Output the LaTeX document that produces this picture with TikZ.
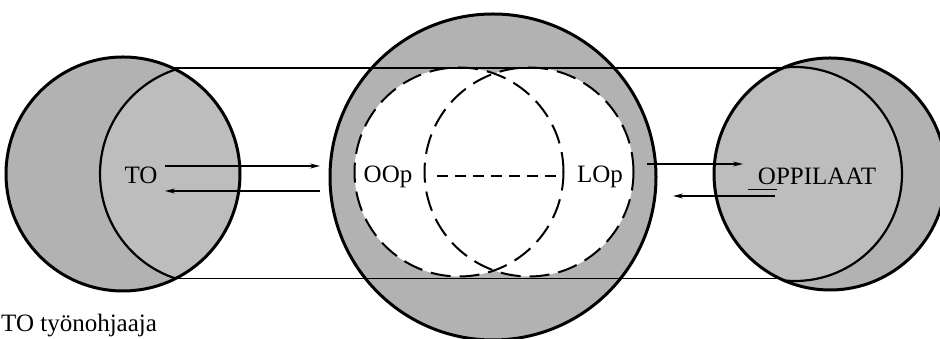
\documentclass[tikz,border=0pt]{standalone}
\usepackage{fontspec}
\setmainfont{Liberation Serif}
\usetikzlibrary{arrows.meta}
\definecolor{shadeA}{gray}{0.70}
\definecolor{shadeB}{gray}{0.74}
\begin{document}
\begin{tikzpicture}[x=1pt,y=1pt,
  disc/.style={circle, inner sep=0pt, outer sep=0pt},
  thickrim/.style={line width=3pt},
  innerrim/.style={line width=2.2pt},
  dashrim/.style={line width=2pt, dash pattern=on 20pt off 9pt},
  dashmid/.style={line width=1.7pt, dash pattern=on 11pt off 7pt},
  link/.style={line width=1.3pt},
  arr/.style={line width=1.2pt, -{Stealth[length=10pt,width=5pt]}},
  lab/.style={inner sep=0pt, font=\fontsize{25}{28}\selectfont}
]
\useasboundingbox (0,0) rectangle (940,339);
\clip (0,0) rectangle (940,339);

% middle group
\node[disc, minimum size=326pt, fill=shadeA] (M) at (493,162) {};
\draw[thickrim] (M.center) circle (163pt);
\node[disc, minimum size=209pt, fill=white] (D1) at (459,167) {};
\node[disc, minimum size=209pt, fill=white] (D2) at (529,167) {};

% left group
\node[disc, minimum size=234pt, fill=shadeA] (L) at (123,165) {};
\coordinate (Li) at (210,165);
\begin{scope}
  \clip (L.center) circle (117pt);
  \fill[shadeB] (Li) circle (110pt);
  \draw[innerrim] (Li) circle (110pt);
\end{scope}
\draw[thickrim] (L.center) circle (117pt);

% right group
\node[disc, minimum size=232pt, fill=shadeA] (R) at (830,165) {};
\coordinate (Ri) at (795,165);
\begin{scope}
  \clip (R.center) circle (116pt);
  \fill[shadeB] (Ri) circle (107pt);
  \draw[innerrim] (Ri) circle (107pt);
\end{scope}
\draw[thickrim] (R.center) circle (116pt);

% connecting lines
\draw[link] (L.65) -- (R.115 |- L.65);
\draw[link] (L.-63) -- (R.-117 |- L.-63);

% dashed circles
\draw[dashrim] (D1.center) circle (104.5pt);
\draw[dashrim] (D2.center) circle (104.5pt);
\coordinate (hl) at (437,163);
\coordinate (hr) at (563,163);
\draw[dashmid] (hl) -- (hr);

% labels
\node[lab] (to) at (141,164) {TO};
\node[lab] (oop) at (388,162) {OOp};
\node[lab] (lop) at (600,162) {LOp};
\node[lab] (opp) at (817,163) {OPPILAAT};
\node[lab, anchor=base west] (tyo) at (1,7) {TO työnohjaaja};

% arrows
\coordinate (a1s) at (165,173);
\coordinate (a1e) at (320,173);
\coordinate (a2s) at (320,148);
\coordinate (a2e) at (165,148);
\coordinate (a3s) at (647,175);
\coordinate (a3e) at (743,175);
\coordinate (a4s) at (775,143);
\coordinate (a4e) at (673,143);
\coordinate (f1) at (748,149);
\coordinate (f2) at (777,149);
\draw[arr] (a1s) -- (a1e);
\draw[arr] (a2s) -- (a2e);
\draw[arr] (a3s) -- (a3e);
\draw[arr] (a4s) -- (a4e);
\draw[line width=1pt] (f1) -- (f2);
\end{tikzpicture}
\end{document}
